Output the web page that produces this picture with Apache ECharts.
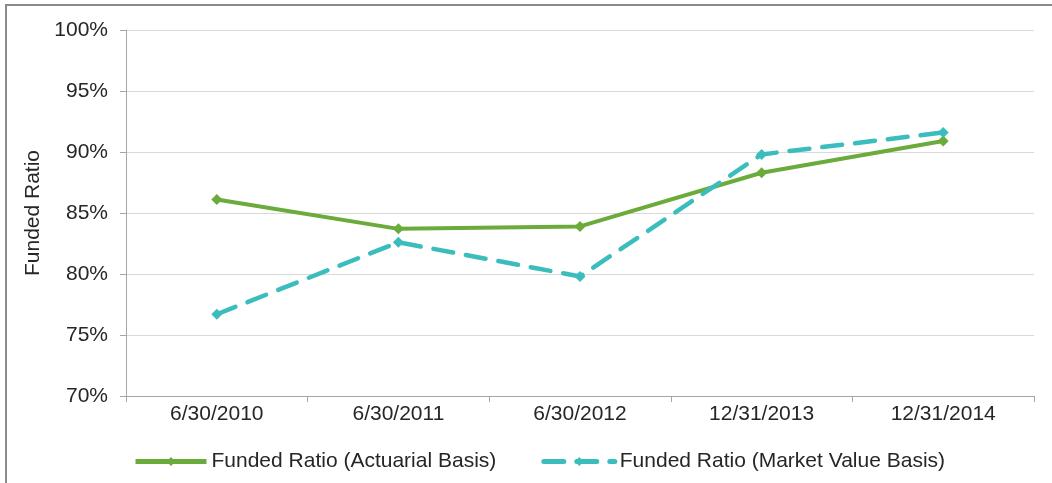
<!DOCTYPE html>
<html lang="en">
<head>
    <meta charset="UTF-8">
    <title>Funded Ratio</title>
    <script src="https://cdn.jsdelivr.net/npm/echarts@6/dist/echarts.min.js"></script>
    <style>
        * { margin: 0; padding: 0; box-sizing: border-box; }
        body { width: 1052px; height: 483px; background: #fff; overflow: hidden; }
        .frame {
            position: absolute;
            left: 5px; top: 4px;
            width: 1060px; height: 500px;
            border-left: 2px solid #8a8a8a;
            border-top: 2px solid #8a8a8a;
        }
        #chart { position: absolute; left: 0; top: 0; width: 1052px; height: 483px; }
    </style>
</head>
<body>
    <div class="frame"></div>
    <div id="chart"></div>
    <script>
        // data
        const categories = ['6/30/2010', '6/30/2011', '6/30/2012', '12/31/2013', '12/31/2014'];
        const actuarial = [86.1, 83.7, 83.9, 88.3, 90.9];
        const marketValue = [76.7, 82.6, 79.8, 89.8, 91.6];

        const chart = echarts.init(document.getElementById('chart'));

        const font = 'Liberation Sans, Arial, sans-serif';
        const textColor = '#262626';

        chart.setOption({
            animation: false,
            grid: { left: 126, right: 18, top: 30, bottom: 87 },
            legend: {
                top: 446,
                left: 128,
                itemWidth: 71,
                itemHeight: 11,
                itemGap: 45,
                lineStyle: { width: 5 },
                textStyle: { fontFamily: font, fontSize: 21, color: textColor },
                data: ['Funded Ratio (Actuarial Basis)', 'Funded Ratio (Market Value Basis)']
            },
            xAxis: {
                type: 'category',
                data: categories,
                boundaryGap: true,
                axisLine: { lineStyle: { color: '#a6a6a6', width: 1 } },
                axisTick: { show: true, length: 6, lineStyle: { color: '#a6a6a6' } },
                axisLabel: { fontFamily: font, fontSize: 21, color: textColor, margin: 8 }
            },
            yAxis: {
                type: 'value',
                min: 70,
                max: 100,
                interval: 5,
                name: 'Funded Ratio',
                nameLocation: 'middle',
                nameGap: 80,
                nameTextStyle: { fontFamily: font, fontSize: 21, color: textColor },
                axisLine: { show: true, lineStyle: { color: '#a6a6a6', width: 1 } },
                axisTick: { show: true, length: 6, lineStyle: { color: '#a6a6a6' } },
                axisLabel: {
                    fontFamily: font, fontSize: 21, color: textColor, margin: 18,
                    formatter: '{value}%'
                },
                splitLine: { lineStyle: { color: '#d9d9d9', width: 1 } }
            },
            series: [
                {
                    name: 'Funded Ratio (Actuarial Basis)',
                    type: 'line',
                    data: actuarial,
                    symbol: 'diamond',
                    symbolSize: 11,
                    itemStyle: { color: '#6aab3b' },
                    lineStyle: { color: '#6aab3b', width: 4 }
                },
                {
                    name: 'Funded Ratio (Market Value Basis)',
                    type: 'line',
                    data: marketValue,
                    symbol: 'diamond',
                    symbolSize: 11,
                    itemStyle: { color: '#3bbdbd' },
                    lineStyle: { color: '#3bbdbd', width: 4.5, type: [20, 13], cap: 'round' }
                }
            ]
        });
    </script>
</body>
</html>
